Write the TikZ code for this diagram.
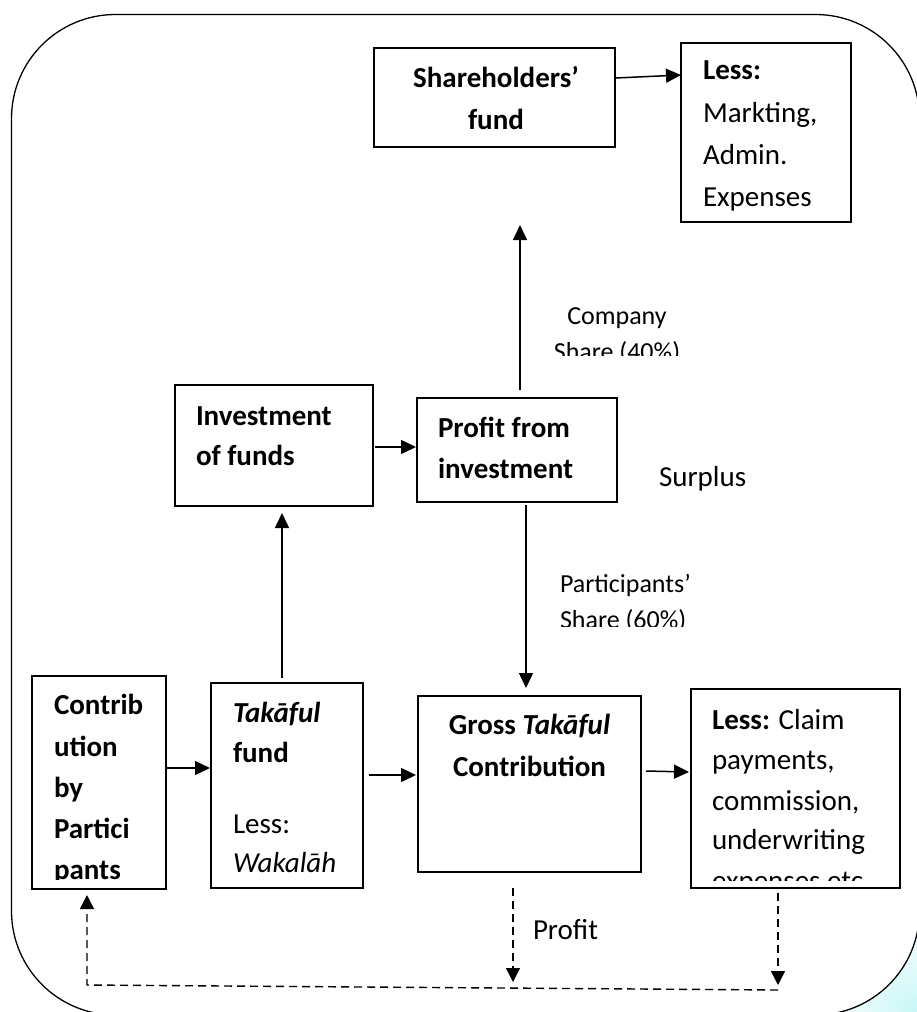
\documentclass[tikz,border=0pt]{standalone}
\usepackage{fontspec}
\setmainfont{Carlito}
\usetikzlibrary{arrows.meta,calc}
\begin{document}
\begin{tikzpicture}[x=1pt,y=-1pt,
  box/.style={draw, line width=1.6pt, inner sep=0pt, outer sep=0pt},
  txt/.style={font=\fontsize{29}{35}\selectfont, inner sep=0pt, outer sep=0pt},
  lbl/.style={font=\fontsize{26}{32}\selectfont, inner sep=0pt, outer sep=0pt},
  arr/.style={line width=1.5pt, -{Triangle[length=15pt,width=14pt]}},
  darr/.style={line width=1.4pt, dash pattern=on 8pt off 5pt, -{Triangle[length=14pt,width=14pt]}},
  framestyle/.style={line width=1.3pt, rounded corners=104pt}]
\useasboundingbox (0,0) rectangle (917,1012);
\fill[white] (0,0) rectangle (917,1012);
\shade[inner color={rgb,255:red,200;green,246;blue,246}, outer color=white] (917,1012) circle (100);
\fill[white, rounded corners=104pt] (11.5,14.5) rectangle (919.5,1015);
\draw[framestyle] (11.5,14.5) rectangle (919.5,1015);

% boxes
\node[box, minimum width=241pt, minimum height=99pt]  (sh)  at (494.5,97.5) {};
\node[box, minimum width=170pt, minimum height=179pt] (lm)  at (766,132.5) {};
\node[box, minimum width=198pt, minimum height=121pt] (inv) at (274,445.5) {};
\node[box, minimum width=200pt, minimum height=104pt] (pr)  at (517,450) {};
\node[box, minimum width=134pt, minimum height=213pt] (con) at (99,782.5) {};
\node[box, minimum width=152pt, minimum height=205pt] (tak) at (287,785.5) {};
\node[box, minimum width=223pt, minimum height=176pt] (gr)  at (529.5,784) {};
\node[box, minimum width=209pt, minimum height=199pt] (lc)  at (795.5,788.5) {};

% texts
\node[txt, anchor=base] (shA) at (496,87) {\textbf{Shareholders’}};
\node[txt, anchor=base] (shB) at (496,129) {\textbf{fund}};

\node[txt, anchor=base west] (lmA) at (703,79) {\textbf{Less:}};
\node[txt, anchor=base west] (lmB) at (703,122) {Markting,};
\node[txt, anchor=base west] (lmC) at (703,164) {Admin.};
\node[txt, anchor=base west] (lmD) at (703,206) {Expenses};

\node[lbl, anchor=base] (cA) at (617,324) {Company};
\begin{scope}
  \clip (540,330) rectangle (700,355);
  \node[lbl, anchor=base] (cB) at (617,360) {Share (40\%)};
\end{scope}

\node[txt, anchor=base west] (invA) at (196,425) {\textbf{Investment}};
\node[txt, anchor=base west] (invB) at (196,465) {\textbf{of funds}};

\node[txt, anchor=base west] (prA) at (438,437) {\textbf{Profit from}};
\node[txt, anchor=base west] (prB) at (438,478) {\textbf{investment}};

\node[txt, anchor=base west] (sA) at (659,486) {Surplus};

\node[lbl, anchor=base west] (pA) at (560,592) {Participants’};
\begin{scope}
  \clip (540,598) rectangle (720,626);
  \node[lbl, anchor=base west] (pB) at (560,628) {Share (60\%)};
\end{scope}

\begin{scope}
  \clip (32,676) rectangle (166,879.5);
  \node[txt, anchor=base west] (conA) at (54,714) {\textbf{Contrib}};
  \node[txt, anchor=base west] (conB) at (54,756) {\textbf{ution}};
  \node[txt, anchor=base west] (conC) at (54,797) {\textbf{by}};
  \node[txt, anchor=base west] (conD) at (54,838) {\textbf{Partici}};
  \node[txt, anchor=base west] (conE) at (54,879) {\textbf{pants}};
\end{scope}

\node[txt, anchor=base west] (tkA) at (233,722) {\textbf{\textit{Takāful}}};
\node[txt, anchor=base west] (tkB) at (233,762) {\textbf{fund}};
\node[txt, anchor=base west] (tkC) at (233,833) {Less:};
\node[txt, anchor=base west] (tkD) at (233,872) {\textit{Wakalāh}};

\node[txt, anchor=base] (grA) at (529.5,734) {\textbf{Gross \textit{Takāful}}};
\node[txt, anchor=base] (grB) at (529.5,776) {\textbf{Contribution}};

\begin{scope}
  \clip (691,689) rectangle (900,880);
  \node[txt, anchor=base west] (lcA) at (712,729) {\textbf{Less:} Claim};
  \node[txt, anchor=base west] (lcB) at (712,769) {payments,};
  \node[txt, anchor=base west] (lcC) at (712,810) {commission,};
  \node[txt, anchor=base west] (lcD) at (712,849) {underwriting};
  \node[txt, anchor=base west] (lcE) at (712,890) {expenses etc};
\end{scope}

\node[txt, anchor=base west] (prf) at (533,939) {Profit};

% free ends
\coordinate (shTip) at (520,225);
\coordinate (pTip) at (513,982);
\coordinate (rTip) at (778,985);
\coordinate (bR) at (778,990);
\coordinate (bL) at (87,985);

% connectors
\draw[arr] ($(sh.north east)+(1,30)$) -- ($(lm.north west)+(0,32)$);
\draw[arr] ($(pr.north)+(3,-8)$) -- (shTip);
\draw[arr] ($(pr.south)+(9,3)$) -- ($(gr.north)+(-3.5,-8)$);
\draw[arr] ($(tak.north)+(-5,-5)$) -- ($(inv.south)+(8,7)$);
\draw[arr] ($(inv.east)+(2,1.5)$) -- ($(pr.west)+(-1,-3)$);
\draw[arr] ($(con.east)+(1,-14.5)$) -- ($(tak.west)+(-1,-17.5)$);
\draw[arr] ($(tak.east)+(6,-10.5)$) -- ($(gr.west)+(-2,-9)$);
\draw[arr] ($(gr.east)+(5,-13)$) -- ($(lc.west)+(-2,-16.5)$);

\draw[darr] ($(gr.south)+(-16.5,16)$) -- (pTip);
\draw[darr] ($(lc.south)+(-17.5,5)$) -- (rTip);
\draw[darr] (bR) -- (bL) -- ($(con.south)+(-12,6)$);
\end{tikzpicture}
\end{document}
